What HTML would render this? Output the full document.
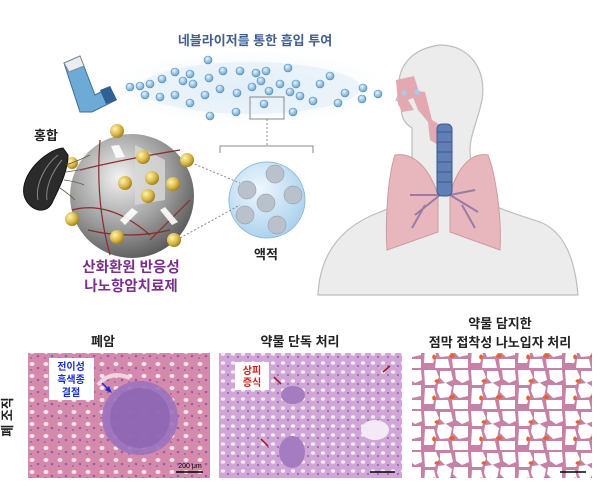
<!DOCTYPE html>
<html><head><meta charset="utf-8"><style>
html,body{margin:0;padding:0;background:#fff;}
svg{display:block;font-family:"Liberation Sans","Noto Sans CJK KR",sans-serif;}
</style></head><body>
<svg width="600" height="487" viewBox="0 0 600 487" xmlns="http://www.w3.org/2000/svg">
<defs>
<radialGradient id="sph" cx="0.4" cy="0.35" r="0.7"><stop offset="0" stop-color="#f2f2f2"/><stop offset="0.6" stop-color="#9a9a9a"/><stop offset="1" stop-color="#555"/></radialGradient>
<radialGradient id="gold" cx="0.35" cy="0.35" r="0.7"><stop offset="0" stop-color="#fff3b0"/><stop offset="0.6" stop-color="#d9b845"/><stop offset="1" stop-color="#9c7c1c"/></radialGradient>
<radialGradient id="drop" cx="0.4" cy="0.35" r="0.7"><stop offset="0" stop-color="#eef7fd"/><stop offset="1" stop-color="#a9d0ec"/></radialGradient>
<radialGradient id="bub" cx="0.4" cy="0.35" r="0.7"><stop offset="0" stop-color="#e6f4fc"/><stop offset="1" stop-color="#5d9ccc"/></radialGradient>
<radialGradient id="cloud" cx="0.5" cy="0.5" r="0.5"><stop offset="0" stop-color="#dcecf7"/><stop offset="1" stop-color="#eef6fb" stop-opacity="0"/></radialGradient>
<pattern id="tis1" width="14" height="12" patternUnits="userSpaceOnUse"><rect width="14" height="12" fill="#d58aab"/><ellipse cx="4" cy="4" rx="2.5" ry="2" fill="#f6e6ee"/><circle cx="10" cy="8" r="1.3" fill="#8d5fae"/><circle cx="3" cy="10" r="1" fill="#9a6ab5"/></pattern>
<pattern id="tis2" width="10" height="9" patternUnits="userSpaceOnUse"><rect width="10" height="9" fill="#cfa6d6"/><ellipse cx="3" cy="3" rx="2.2" ry="1.8" fill="#f4eaf6"/><circle cx="8" cy="6" r="1" fill="#8e62b3"/></pattern>
<pattern id="tis3" width="47" height="41" patternUnits="userSpaceOnUse"><rect width="47" height="41" fill="#c682a6"/>
<path d="M1 1h12l3 7-4 8H2z" fill="#fff"/><path d="M17 2h11l2 9-8 3-5-5z" fill="#fff"/><path d="M32 1h13l1 10-7 3-6-4z" fill="#fff"/>
<path d="M15 15l8-1 6 4-2 10-10 1-3-7z" fill="#fff"/><path d="M31 16h14v11l-9 2-6-6z" fill="#fff"/><path d="M2 19h9l2 8-3 8H1z" fill="#fff"/>
<path d="M13 31h12l2 9H12z" fill="#fff"/><path d="M29 31h16v9H30z" fill="#fff"/>
<ellipse cx="14" cy="12" rx="2.5" ry="1.8" fill="#e3642e"/><ellipse cx="29" cy="28" rx="3" ry="2" fill="#e3642e"/><ellipse cx="11" cy="29" rx="1.8" ry="2.5" fill="#e3642e"/></pattern>
</defs>

<text x="255" y="45" font-size="13" font-weight="bold" fill="#3f5f8f" text-anchor="middle">네블라이저를 통한 흡입 투여</text>

<!-- human -->
<path d="M318 295 C320 250 345 225 380 212 C400 205 410 195 412 170 L412 128 C402 122 400 112 402 104 L396 100 L400 92 C396 78 402 50 440 45 C470 45 487 70 482 100 C478 120 470 135 470 150 L472 185 C480 205 510 212 540 222 C565 232 575 260 578 295 Z" fill="#ececec" stroke="#bdbdbd" stroke-width="1.2"/>
<path d="M396 80 L414 76 L420 95 L408 100 L414 110 L402 112 L398 104 Z" fill="#e3a9b2"/>
<path d="M410 90 L425 92 L432 120 L440 125 L438 145 L430 140 L428 122 L418 110 Z" fill="#e3a9b2"/>
<circle cx="404" cy="93" r="2.5" fill="#9fd0ee"/><circle cx="417" cy="92" r="2.5" fill="#9fd0ee"/>
<path d="M395 155 C388 175 385 220 387 250 L438 232 L438 195 C430 170 415 152 395 155Z" fill="#e7b7bd" stroke="#cf9aa3"/>
<path d="M488 155 C496 175 502 220 500 250 L450 232 L450 195 C456 170 470 152 488 155Z" fill="#e7b7bd" stroke="#cf9aa3"/>
<path d="M440 195 L415 215 M440 195 L410 195 M425 205 L412 228 M450 195 L478 212 M450 195 L475 190 M462 205 L475 228" stroke="#9a7aa6" stroke-width="2" fill="none"/>
<rect x="437" y="124" width="15" height="72" rx="5" fill="#5f7fb5" stroke="#3d5a90"/>
<g stroke="#3d5a90" stroke-width="1"><line x1="437" y1="132" x2="452" y2="132"/><line x1="437" y1="142" x2="452" y2="142"/><line x1="437" y1="152" x2="452" y2="152"/><line x1="437" y1="162" x2="452" y2="162"/><line x1="437" y1="172" x2="452" y2="172"/><line x1="437" y1="182" x2="452" y2="182"/></g>

<ellipse cx="250" cy="88" rx="140" ry="38" fill="url(#cloud)"/>
<ellipse cx="250" cy="88" rx="110" ry="26" fill="#e3eff8" opacity="0.6"/>
<g fill="url(#bub)" stroke="#4a86b8" stroke-width="0.6">
<circle cx="208" cy="60" r="4"/><circle cx="175" cy="72" r="4"/><circle cx="190" cy="74" r="4"/><circle cx="223" cy="71" r="4"/><circle cx="240" cy="71" r="4"/><circle cx="256" cy="73" r="4"/><circle cx="266" cy="71" r="4"/><circle cx="288" cy="68" r="4"/><circle cx="330" cy="76" r="4"/>
<circle cx="130" cy="87" r="4"/><circle cx="140" cy="86" r="4"/><circle cx="150" cy="84" r="4"/><circle cx="162" cy="79" r="4"/><circle cx="183" cy="81" r="4"/><circle cx="193" cy="84" r="4"/><circle cx="209" cy="78" r="4"/><circle cx="261" cy="81" r="4"/><circle cx="280" cy="84" r="4"/><circle cx="296" cy="84" r="4"/><circle cx="320" cy="84" r="4"/>
<circle cx="145" cy="95" r="4"/><circle cx="160" cy="97" r="4"/><circle cx="175" cy="95" r="4"/><circle cx="205" cy="95" r="4"/><circle cx="220" cy="89" r="4"/><circle cx="237" cy="93" r="4"/><circle cx="252" cy="87" r="4"/><circle cx="269" cy="91" r="4"/><circle cx="290" cy="92" r="4"/><circle cx="300" cy="96" r="4"/><circle cx="345" cy="93" r="4"/><circle cx="363" cy="88" r="4"/><circle cx="378" cy="94" r="4"/>
<circle cx="190" cy="103" r="4"/><circle cx="313" cy="101" r="4"/><circle cx="338" cy="103" r="4"/><circle cx="362" cy="99" r="4"/>
<circle cx="210" cy="116" r="4"/><circle cx="236" cy="112" r="4"/><circle cx="264" cy="104" r="4"/><circle cx="293" cy="112" r="4"/>
</g>
<rect x="250" y="97" width="34" height="22" fill="none" stroke="#888" stroke-width="1"/>
<line x1="267" y1="119" x2="267" y2="146" stroke="#888" stroke-dasharray="2,2"/>
<path d="M220 153 V146 H313 V153" fill="none" stroke="#888"/>

<path d="M64 63 L80 56 L95 95 L110 87 L116 100 L92 112 L80 112 Z" fill="#6eaad6" stroke="#3c6f9c"/>
<path d="M64 63 L80 56 L84 66 L69 72 Z" fill="#e8eef3" stroke="#888"/>
<path d="M100 90 L110 86 L117 100 L106 104 Z" fill="#2f5f95"/>

<circle cx="267" cy="200" r="38" fill="url(#drop)" stroke="#8bbbe0"/>
<g fill="#b9c2cc" stroke="#8b8f98" stroke-width="0.5"><circle cx="275" cy="174" r="9"/><circle cx="247" cy="190" r="9"/><circle cx="293" cy="195" r="9"/><circle cx="266" cy="203" r="9"/><circle cx="245" cy="215" r="9"/><circle cx="277" cy="225" r="9"/></g>
<line x1="180" y1="158" x2="240" y2="183" stroke="#888" stroke-dasharray="2,2"/>
<line x1="180" y1="238" x2="240" y2="205" stroke="#888" stroke-dasharray="2,2"/>
<text x="266" y="259" font-size="13" font-weight="bold" fill="#222" text-anchor="middle">액적</text>

<circle cx="132" cy="196" r="62" fill="url(#sph)"/>
<path d="M135 145 L165 160 L165 200 L135 205 Z" fill="#d8d8d8" opacity="0.8"/>
<g stroke="#8a2b2b" stroke-width="1.2" fill="none"><path d="M80 170 Q120 160 180 150"/><path d="M72 210 Q110 200 150 235"/><path d="M100 140 Q95 200 110 255"/><path d="M150 240 Q170 220 190 200"/><path d="M88 230 Q130 240 170 230"/></g>
<g fill="url(#gold)"><circle cx="117" cy="131" r="7"/><circle cx="143" cy="157" r="7"/><circle cx="187" cy="160" r="7"/><circle cx="125" cy="183" r="7"/><circle cx="152" cy="178" r="7"/><circle cx="173" cy="184" r="7"/><circle cx="148" cy="196" r="7"/><circle cx="72" cy="219" r="7"/><circle cx="117" cy="237" r="7"/><circle cx="174" cy="240" r="7"/><circle cx="72" cy="163" r="6"/></g>
<g fill="#fff" opacity="0.9"><path d="M116 158 L111 146 L119 145 L125 157 Z"/><path d="M138 212 L125 225 L120 220 L132 208 Z"/><path d="M165 207 L178 222 L172 225 L160 210 Z"/></g>
<text x="46" y="140" font-size="13" font-weight="bold" fill="#222" text-anchor="middle">홍합</text>
<path d="M63 148 C45 150 20 175 24 195 C28 210 45 216 52 203 C58 190 68 172 68 155 Z" fill="#2b2b2b" stroke="#111"/>
<path d="M58 155 C45 165 35 185 38 200 M62 160 C52 172 45 188 47 200" stroke="#888" fill="none" stroke-width="1"/>
<g stroke="#6b5a3a" stroke-width="0.8" fill="none"><path d="M66 165 Q80 160 90 155"/><path d="M66 172 Q80 170 88 168"/><path d="M64 180 Q78 182 84 185"/><path d="M60 188 Q70 195 75 200"/></g>
<text x="131" y="272" font-size="14.5" font-weight="bold" fill="#7a2f8e" text-anchor="middle">산화환원 반응성</text>
<text x="131" y="291" font-size="14.5" font-weight="bold" fill="#7a2f8e" text-anchor="middle">나노항암치료제</text>

<text x="103" y="346" font-size="13" font-weight="bold" fill="#222" text-anchor="middle">폐암</text>
<text x="300" y="346" font-size="13" font-weight="bold" fill="#222" text-anchor="middle">약물 단독 처리</text>
<text x="500" y="328" font-size="13" font-weight="bold" fill="#222" text-anchor="middle">약물 담지한</text>
<text x="500" y="347" font-size="13" font-weight="bold" fill="#222" text-anchor="middle">점막 접착성 나노입자 처리</text>
<text x="12" y="417" font-size="13" font-weight="bold" fill="#222" text-anchor="middle" transform="rotate(-90 12 417)">폐 조직</text>

<rect x="28" y="353" width="182" height="125" fill="url(#tis1)"/>
<ellipse cx="140" cy="418" rx="38" ry="37" fill="#9a72bc" opacity="0.9"/>
<ellipse cx="140" cy="418" rx="30" ry="30" fill="#8a62b0" opacity="0.7"/>
<path d="M98 385 Q110 370 130 378" stroke="#f0d4e2" stroke-width="4" fill="none"/>
<rect x="49" y="358" width="45" height="42" fill="#fff"/>
<text x="71" y="370" font-size="10" font-weight="bold" fill="#1a2fd0" text-anchor="middle">전이성</text>
<text x="71" y="383" font-size="10" font-weight="bold" fill="#1a2fd0" text-anchor="middle">흑색종</text>
<text x="71" y="396" font-size="10" font-weight="bold" fill="#1a2fd0" text-anchor="middle">결절</text>
<line x1="102" y1="383" x2="110" y2="391" stroke="#1a2fd0" stroke-width="1.5"/>
<path d="M112 393 L105 390 L109 386 Z" fill="#1a2fd0"/>
<line x1="176" y1="472" x2="203" y2="472" stroke="#000" stroke-width="1.5"/>
<text x="190" y="468" font-size="7" fill="#000" text-anchor="middle">200 μm</text>

<rect x="219" y="353" width="183" height="125" fill="url(#tis2)"/>
<ellipse cx="293" cy="395" rx="12" ry="9" fill="#a57cc0"/>
<ellipse cx="292" cy="452" rx="13" ry="16" fill="#a57cc0"/>
<ellipse cx="375" cy="430" rx="14" ry="10" fill="#f3eaf5"/>
<rect x="235" y="362" width="34" height="28" fill="#fff"/>
<text x="252" y="374" font-size="10" font-weight="bold" fill="#d0201c" text-anchor="middle">상피</text>
<text x="252" y="386" font-size="10" font-weight="bold" fill="#d0201c" text-anchor="middle">증식</text>
<g stroke="#a01818" stroke-width="1.5"><line x1="274" y1="377" x2="281" y2="384"/><line x1="261" y1="439" x2="268" y2="446"/><line x1="383" y1="372" x2="390" y2="366"/></g>
<line x1="370" y1="472" x2="395" y2="472" stroke="#000" stroke-width="1.5"/>

<rect x="412" y="353" width="180" height="125" fill="url(#tis3)"/>
<line x1="560" y1="472" x2="586" y2="472" stroke="#000" stroke-width="1.5"/>
</svg>
</body></html>
